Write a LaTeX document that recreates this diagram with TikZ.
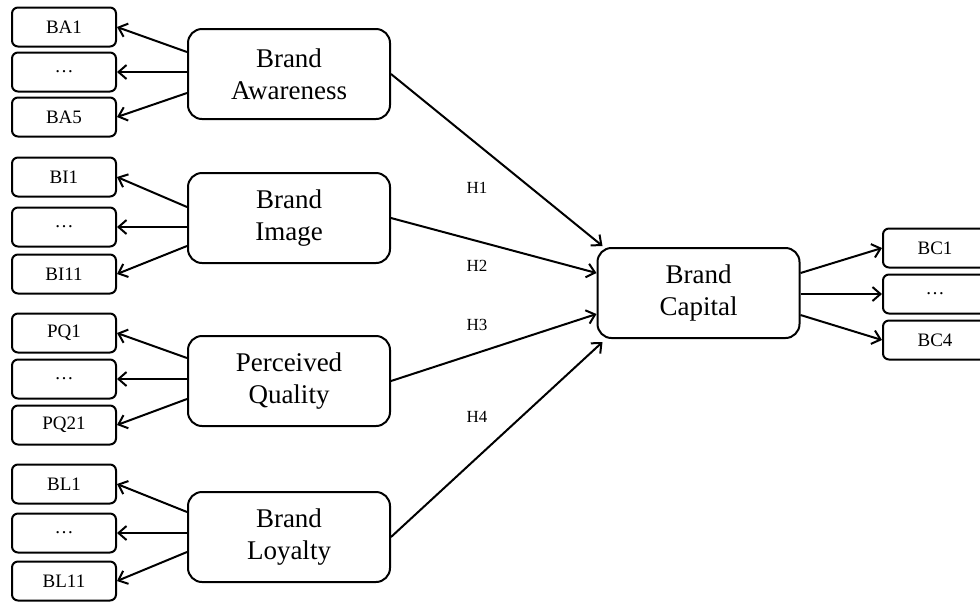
\documentclass[tikz,border=0pt]{standalone}
\usepackage{fontspec}
\setmainfont{Liberation Serif}
\usetikzlibrary{arrows.meta,positioning}

\begin{document}
\begin{tikzpicture}[x=0.5pt,y=-0.5pt,line width=1pt,
 item/.style={draw,rounded corners=3pt,minimum width=52pt,minimum height=19.5pt,
 inner sep=0pt,font=\fontsize{9.5}{11}\selectfont},
 factor/.style={draw,rounded corners=7pt,minimum width=101pt,minimum height=45pt,
 align=center,inner sep=0pt,font=\fontsize{13.5}{16}\selectfont},
 hyp/.style={font=\fontsize{8.5}{10}\selectfont},
 >={Straight Barb[length=4pt,width=7pt]}]
\useasboundingbox (0,0) rectangle (980,602);
% constructs
\node[factor] (ba) at (289,74) {Brand\\Awareness};
\node[factor] (bi) at (289,218) {Brand\\Image};
\node[factor] (pq) at (289,381) {Perceived\\Quality};
\node[factor] (bl) at (289,537) {Brand\\Loyalty};
\node[factor] (bc) at (698.5,293) {Brand\\Capital};
% indicators
\node[item] (ba1) at (64,27) {BA1};
\node[item] (bam) at (64,72) {\dots};
\node[item] (ba5) at (64,117) {BA5};
\node[item] (bi1) at (64,177) {BI1};
\node[item] (bim) at (64,227) {\dots};
\node[item] (bi11) at (64,274) {BI11};
\node[item] (pq1) at (64,333) {PQ1};
\node[item] (pqm) at (64,379) {\dots};
\node[item] (pq21) at (64,425) {PQ21};
\node[item] (bl1) at (64,484) {BL1};
\node[item] (blm) at (64,533) {\dots};
\node[item] (bl11) at (64,581) {BL11};
\node[item] (bc1) at (935,248) {BC1};
\node[item] (bcm) at (935,294) {\dots};
\node[item] (bc4) at (935,340) {BC4};
% loadings
\foreach \f/\t/\s in {ba/ba1/11pt,ba/ba5/-9.5pt,bi/bi1/5.5pt,bi/bi11/-14pt,
 pq/pq1/11.5pt,pq/pq21/-9pt,bl/bl1/12.5pt,bl/bl11/-7.5pt}
 \draw[->] ([yshift=\s]\f.west) -- (\t.east);
\foreach \f/\t in {ba/bam,bi/bim,pq/pqm,bl/blm}
 \draw[->] (\f.west |- \t) -- (\t);
\foreach \t/\s in {bc1/10pt,bc4/-11pt}
 \draw[->] ([yshift=\s]bc.east) -- (\t.west);
\draw[->] (bc.east |- bcm) -- (bcm);
% paths
\draw[->] (ba.east) -- ([shift={(3pt,23.5pt)}]bc.west);
\draw[->] (bi.east) -- ([yshift=10pt]bc.west);
\draw[->] (pq.east) -- ([yshift=-10.5pt]bc.west);
\draw[->] (bl.east) -- ([shift={(3pt,-24.5pt)}]bc.west);
\node[hyp] (h1) at (477,188) {H1};
\node[hyp] (h2) at (477,266) {H2};
\node[hyp] (h3) at (477,325) {H3};
\node[hyp] (h4) at (477,417) {H4};
\end{tikzpicture}
\end{document}
